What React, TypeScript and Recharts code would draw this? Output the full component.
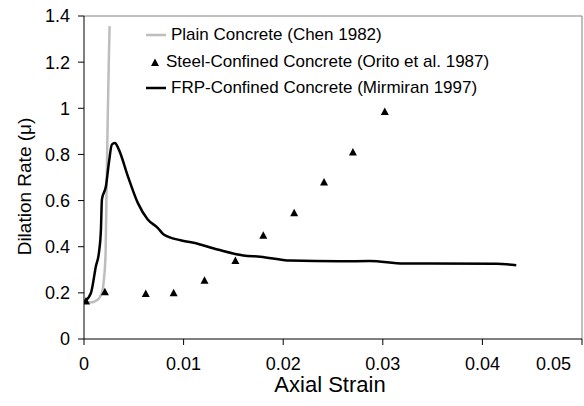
import React from 'react';
import {
  ComposedChart,
  Line,
  Scatter,
  XAxis,
  YAxis,
  ReferenceLine,
  Legend
} from 'recharts';

// Plain concrete (Chen 1982) - gray curve
const plainStrain = [0, 0.0006, 0.0013, 0.0018, 0.002, 0.00217, 0.00227, 0.00238, 0.00248, 0.00257];
const plainRate = [0.165, 0.158, 0.168, 0.2, 0.258, 0.375, 0.662, 0.95, 1.18, 1.356];

// Steel-confined concrete (Orito et al. 1987) - triangles
const steelStrain = [0.0002, 0.0021, 0.0062, 0.009, 0.0121, 0.0152, 0.018, 0.0211, 0.0241, 0.027, 0.0302];
const steelRate = [0.165, 0.205, 0.197, 0.2, 0.255, 0.34, 0.45, 0.547, 0.68, 0.811, 0.986];

// FRP-confined concrete (Mirmiran 1997) - black curve
const frpStrain = [
  0.0001, 0.0007, 0.0012, 0.0015, 0.0017, 0.0018, 0.0022, 0.0025, 0.0028, 0.0031,
  0.0035, 0.0044, 0.0054, 0.0064, 0.0074, 0.008, 0.0097, 0.011, 0.0134, 0.016,
  0.0177, 0.0207, 0.0257, 0.0287, 0.0321, 0.0347, 0.0414, 0.0434
];
const frpRate = [
  0.164, 0.2, 0.316, 0.374, 0.475, 0.605, 0.662, 0.764, 0.843, 0.85,
  0.821, 0.706, 0.59, 0.518, 0.482, 0.453, 0.428, 0.417, 0.388, 0.362,
  0.357, 0.34, 0.337, 0.338, 0.327, 0.327, 0.326, 0.32
];

const xTicks = [0, 0.01, 0.02, 0.03, 0.04, 0.05];
const yTicks = [0, 0.2, 0.4, 0.6, 0.8, 1, 1.2, 1.4];

const legendNames = [
  'Plain Concrete (Chen 1982)',
  'Steel-Confined Concrete (Orito et al. 1987)',
  'FRP-Confined Concrete (Mirmiran 1997)'
];

const FONT = '"Liberation Sans", Arial, Helvetica, sans-serif';

const zip = (xs: number[], ys: number[]) => xs.map((x, i) => ({ x, y: ys[i] }));

const plainData = zip(plainStrain, plainRate);
const steelData = zip(steelStrain, steelRate);
const frpData = zip(frpStrain, frpRate);

const Triangle = (props: any) => {
  const { cx, cy } = props;
  if (cx == null || cy == null) return null;
  return <polygon points={`${cx - 4},${cy + 3.5} ${cx + 4},${cy + 3.5} ${cx},${cy - 4}`} fill="#000" />;
};

// last x label is pulled inside the right edge, like the original
const XTick = (props: any) => {
  const { x, y, payload, index } = props;
  const last = index === xTicks.length - 1;
  return (
    <text
      x={last ? x + 1 : x}
      y={y}
      dy="0.71em"
      textAnchor={last ? 'end' : 'middle'}
      fontSize={18}
      fontFamily={FONT}
      fill="#000"
    >
      {String(payload.value)}
    </text>
  );
};

const renderLegend = () => (
  <div style={{ fontFamily: FONT, fontSize: 17, color: '#000' }}>
    {legendNames.map((name, i) => (
      <div key={name} style={{ display: 'flex', alignItems: 'center', height: 26.5, whiteSpace: 'nowrap' }}>
        <svg width={24} height={10} style={{ marginRight: 1 }}>
          {i === 0 && <line x1={0} y1={5} x2={20} y2={5} stroke="#bdbdbd" strokeWidth={2.5} />}
          {i === 1 && <polygon points="5,9 13,9 9,1.5" fill="#000" />}
          {i === 2 && <line x1={0} y1={5} x2={20} y2={5} stroke="#000" strokeWidth={2.5} />}
        </svg>
        <span style={{ marginLeft: i === 1 ? -5 : 0 }}>{name}</span>
      </div>
    ))}
  </div>
);

const YLabel = (props: any) => {
  const { viewBox } = props;
  const x = viewBox.x + 24;
  const y = viewBox.y + viewBox.height / 2 + 9;
  return (
    <text
      x={x}
      y={y}
      transform={`rotate(-90, ${x}, ${y})`}
      textAnchor="middle"
      dominantBaseline="central"
      fontSize={19}
      fontFamily={FONT}
      fill="#000"
    >
      Dilation Rate (μ)
    </text>
  );
};

const XLabel = (props: any) => {
  const { viewBox } = props;
  const x = viewBox.x + viewBox.width / 2 - 3;
  return (
    <text x={x} y={viewBox.y + 53} textAnchor="middle" fontSize={22} fontFamily={FONT} fill="#000">
      Axial Strain
    </text>
  );
};

const App: React.FC = () => {
  return (
    <div style={{ position: 'absolute', left: 0, top: 0, width: 584, height: 406, background: '#fff' }}>
      <ComposedChart width={584} height={406} margin={{ top: 16, right: 2, bottom: 7, left: 0 }}>
        <XAxis
          type="number"
          dataKey="x"
          domain={[0, 0.05]}
          ticks={xTicks}
          allowDataOverflow
          axisLine={{ stroke: '#000' }}
          tickLine={{ stroke: '#000' }}
          tickSize={6}
          tickMargin={12}
          height={60}
          tick={<XTick />}
          label={<XLabel />}
        />
        <YAxis
          type="number"
          dataKey="y"
          domain={[0, 1.4]}
          ticks={yTicks}
          allowDataOverflow
          width={84}
          axisLine={{ stroke: '#000' }}
          tickLine={{ stroke: '#000' }}
          tickSize={6}
          tickMargin={8}
          tick={{ fill: '#000', fontSize: 18, fontFamily: FONT }}
          label={<YLabel />}
        />
        <ReferenceLine y={1.4} stroke="#808080" strokeWidth={1} />
        <ReferenceLine x={0.05} stroke="#808080" strokeWidth={1} />
        <Line
          data={plainData}
          dataKey="y"
          type="monotone"
          stroke="#bdbdbd"
          strokeWidth={2.5}
          dot={false}
          isAnimationActive={false}
        />
        <Line
          data={frpData}
          dataKey="y"
          type="monotone"
          stroke="#000"
          strokeWidth={2.5}
          dot={false}
          isAnimationActive={false}
        />
        <Scatter data={steelData} dataKey="y" shape={<Triangle />} isAnimationActive={false} />
        <Legend
          layout="vertical"
          align="center"
          verticalAlign="middle"
          wrapperStyle={{ top: 22, left: 146, width: 'auto' }}
          content={renderLegend}
        />
      </ComposedChart>
    </div>
  );
};

export default App;
